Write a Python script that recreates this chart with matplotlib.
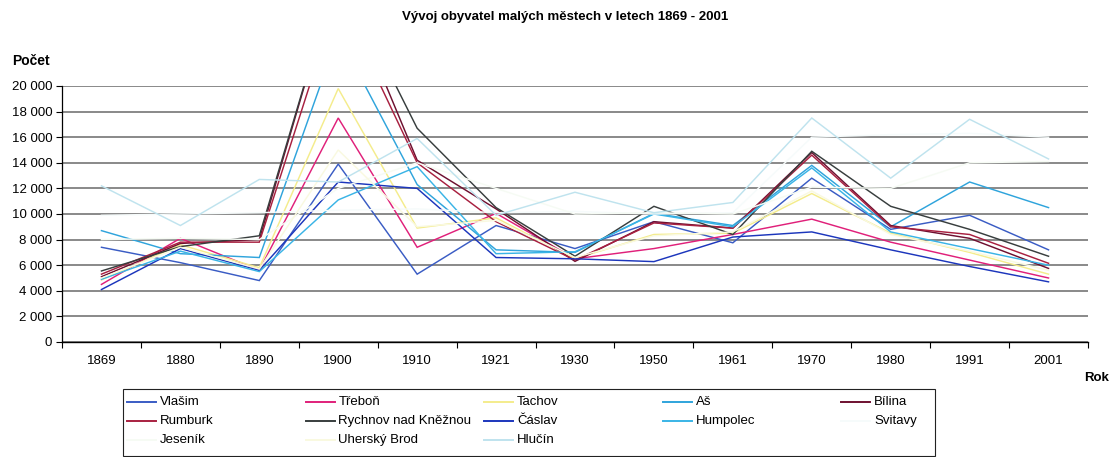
import matplotlib
matplotlib.use("Agg")
import matplotlib.pyplot as plt
from matplotlib.lines import Line2D
from matplotlib.patches import Rectangle
from matplotlib.ticker import FuncFormatter, FixedLocator

plt.rcParams['font.family'] = ['Liberation Sans', 'DejaVu Sans']

# ---------------- data ----------------
years = ["1869", "1880", "1890", "1900", "1910", "1921", "1930",
         "1950", "1961", "1970", "1980", "1991", "2001"]

vlasim   = [7400, 6200, 4800, 13900, 5300, 9100, 7300, 9400, 7750, 12800, 8800, 9900, 7200]
trebon   = [4500, 8100, 5600, 17500, 7400, 10050, 6500, 7300, 8400, 9600, 7800, 6400, 5000]
tachov   = [4850, 7600, 5800, 19800, 8900, 9700, 6500, 8400, 8500, 11600, 8500, 7000, 5300]
as_      = [8700, 6900, 6600, 24000, 12300, 7200, 7000, 10050, 9100, 13800, 9000, 12500, 10500]
bilina   = [5100, 7700, 8000, 29000, 14200, 10400, 6300, 9400, 8900, 14800, 9100, 8100, 5750]
rumburk  = [5300, 7800, 7800, 27000, 14000, 9400, 6400, 9300, 8900, 14600, 9000, 8400, 6150]
rychnov  = [5550, 7450, 8300, 29000, 16700, 10500, 6700, 10600, 8400, 14900, 10600, 8800, 6700]
caslav   = [4100, 7300, 5600, 12500, 12000, 6600, 6500, 6280, 8200, 8600, 7200, 5900, 4700]
humpolec = [4900, 7100, 5500, 11100, 13700, 6900, 7050, 10000, 9000, 13600, 8600, 7300, 6000]
svitavy  = [9900, 10000, 10100, 10300, 10400, 10100, 10200, 10000, 10100, 16000, 16200, 16300, 16000]
jesenik  = [8000, 8100, 8000, 12000, 14000, 12000, 10000, 10100, 10000, 12100, 12000, 14000, 14100]
ubrod    = [5000, 7400, 5700, 15000, 9000, 9500, 6600, 8300, 8600, 11800, 8400, 7100, 5600]
hlucin   = [12200, 9100, 12700, 12500, 15900, 9900, 11700, 10100, 10900, 17500, 12800, 17400, 14300]

names = ["Vlašim", "Třeboň", "Tachov", "Aš", "Bílina",
         "Rumburk", "Rychnov nad Kněžnou", "Čáslav", "Humpolec", "Svitavy",
         "Jeseník", "Uherský Brod", "Hlučín"]
series = [vlasim, trebon, tachov, as_, bilina, rumburk, rychnov, caslav,
          humpolec, svitavy, jesenik, ubrod, hlucin]
colors = ["#3a5cc4", "#e0207a", "#f4ec8c", "#2fa4dc", "#6e1030",
          "#a82040", "#383e3e", "#1c36bc", "#3ab4e6", "#f6fbfb",
          "#f6fbf4", "#f9f9e0", "#bfe3ee"]

title = "Vývoj obyvatel malých městech v letech 1869 - 2001"

# ---------------- figure ----------------
W, H = 1111, 457
fig = plt.figure(figsize=(W / 100, H / 100), dpi=100)

def fx(px):
    return px / W

def fy(py):
    return 1 - py / H

ax_l, ax_r, ax_t, ax_b = 62, 1088, 86, 342
ax = fig.add_axes([fx(ax_l), fy(ax_b), fx(ax_r) - fx(ax_l), fy(ax_t) - fy(ax_b)])

xs = list(range(len(years)))
for vals, c in zip(series, colors):
    ax.plot(xs, vals, color=c, lw=1.05, solid_joinstyle='miter', zorder=3)

ax.set_xlim(-0.5, len(years) - 0.5)
ax.set_ylim(0, 20000)

ax.yaxis.set_major_locator(FixedLocator(range(0, 20001, 2000)))
ax.yaxis.set_major_formatter(FuncFormatter(lambda v, p: f"{int(v):,}".replace(",", " ")))
ax.set_xticks(xs)
ax.set_xticklabels(years)
ax.set_xticks([i - 0.5 for i in range(len(years) + 1)], minor=True)
ax.tick_params(axis='x', which='major', length=0, pad=9, labelsize=9.5)
ax.tick_params(axis='x', which='minor', length=4, width=0.8, direction='out')
ax.tick_params(axis='y', which='major', length=4, width=0.8, direction='out', labelsize=9.5, pad=3)

ax.grid(axis='y', color='#6a6a6a', lw=1.1, zorder=1)
ax.set_axisbelow(True)
for s in ['top', 'right']:
    ax.spines[s].set_visible(False)
ax.spines['left'].set_linewidth(0.9)
ax.spines['bottom'].set_linewidth(1.0)

# texts
fig.text(fx(565), fy(17), title, ha='center', va='center', fontsize=9.5, fontweight='bold')
fig.text(fx(12), fy(61), "Počet", ha='left', va='center', fontsize=10, fontweight='bold')
fig.text(fx(1109), fy(378), "Rok", ha='right', va='center', fontsize=9.5, fontweight='bold')

# legend (manual, Excel-style grid: 5 columns, row-major)
box = Rectangle((fx(123), fy(456)), fx(935) - fx(123), fy(389) - fy(456),
                transform=fig.transFigure, fill=False, edgecolor='#222222', lw=0.8)
fig.add_artist(box)
col_x0, col_dx = 127, 178.5
row_y0, row_dy = 402, 19
for i, (n, c) in enumerate(zip(names, colors)):
    col, row = i % 5, i // 5
    x0 = col_x0 + col * col_dx
    y0 = row_y0 + row * row_dy
    fig.add_artist(Line2D([fx(x0), fx(x0 + 29)], [fy(y0), fy(y0)],
                          transform=fig.transFigure, color=c, lw=1.4))
    fig.text(fx(x0 + 33), fy(y0), n, ha='left', va='center', fontsize=9.5)

fig.savefig("out.png", dpi=100)
